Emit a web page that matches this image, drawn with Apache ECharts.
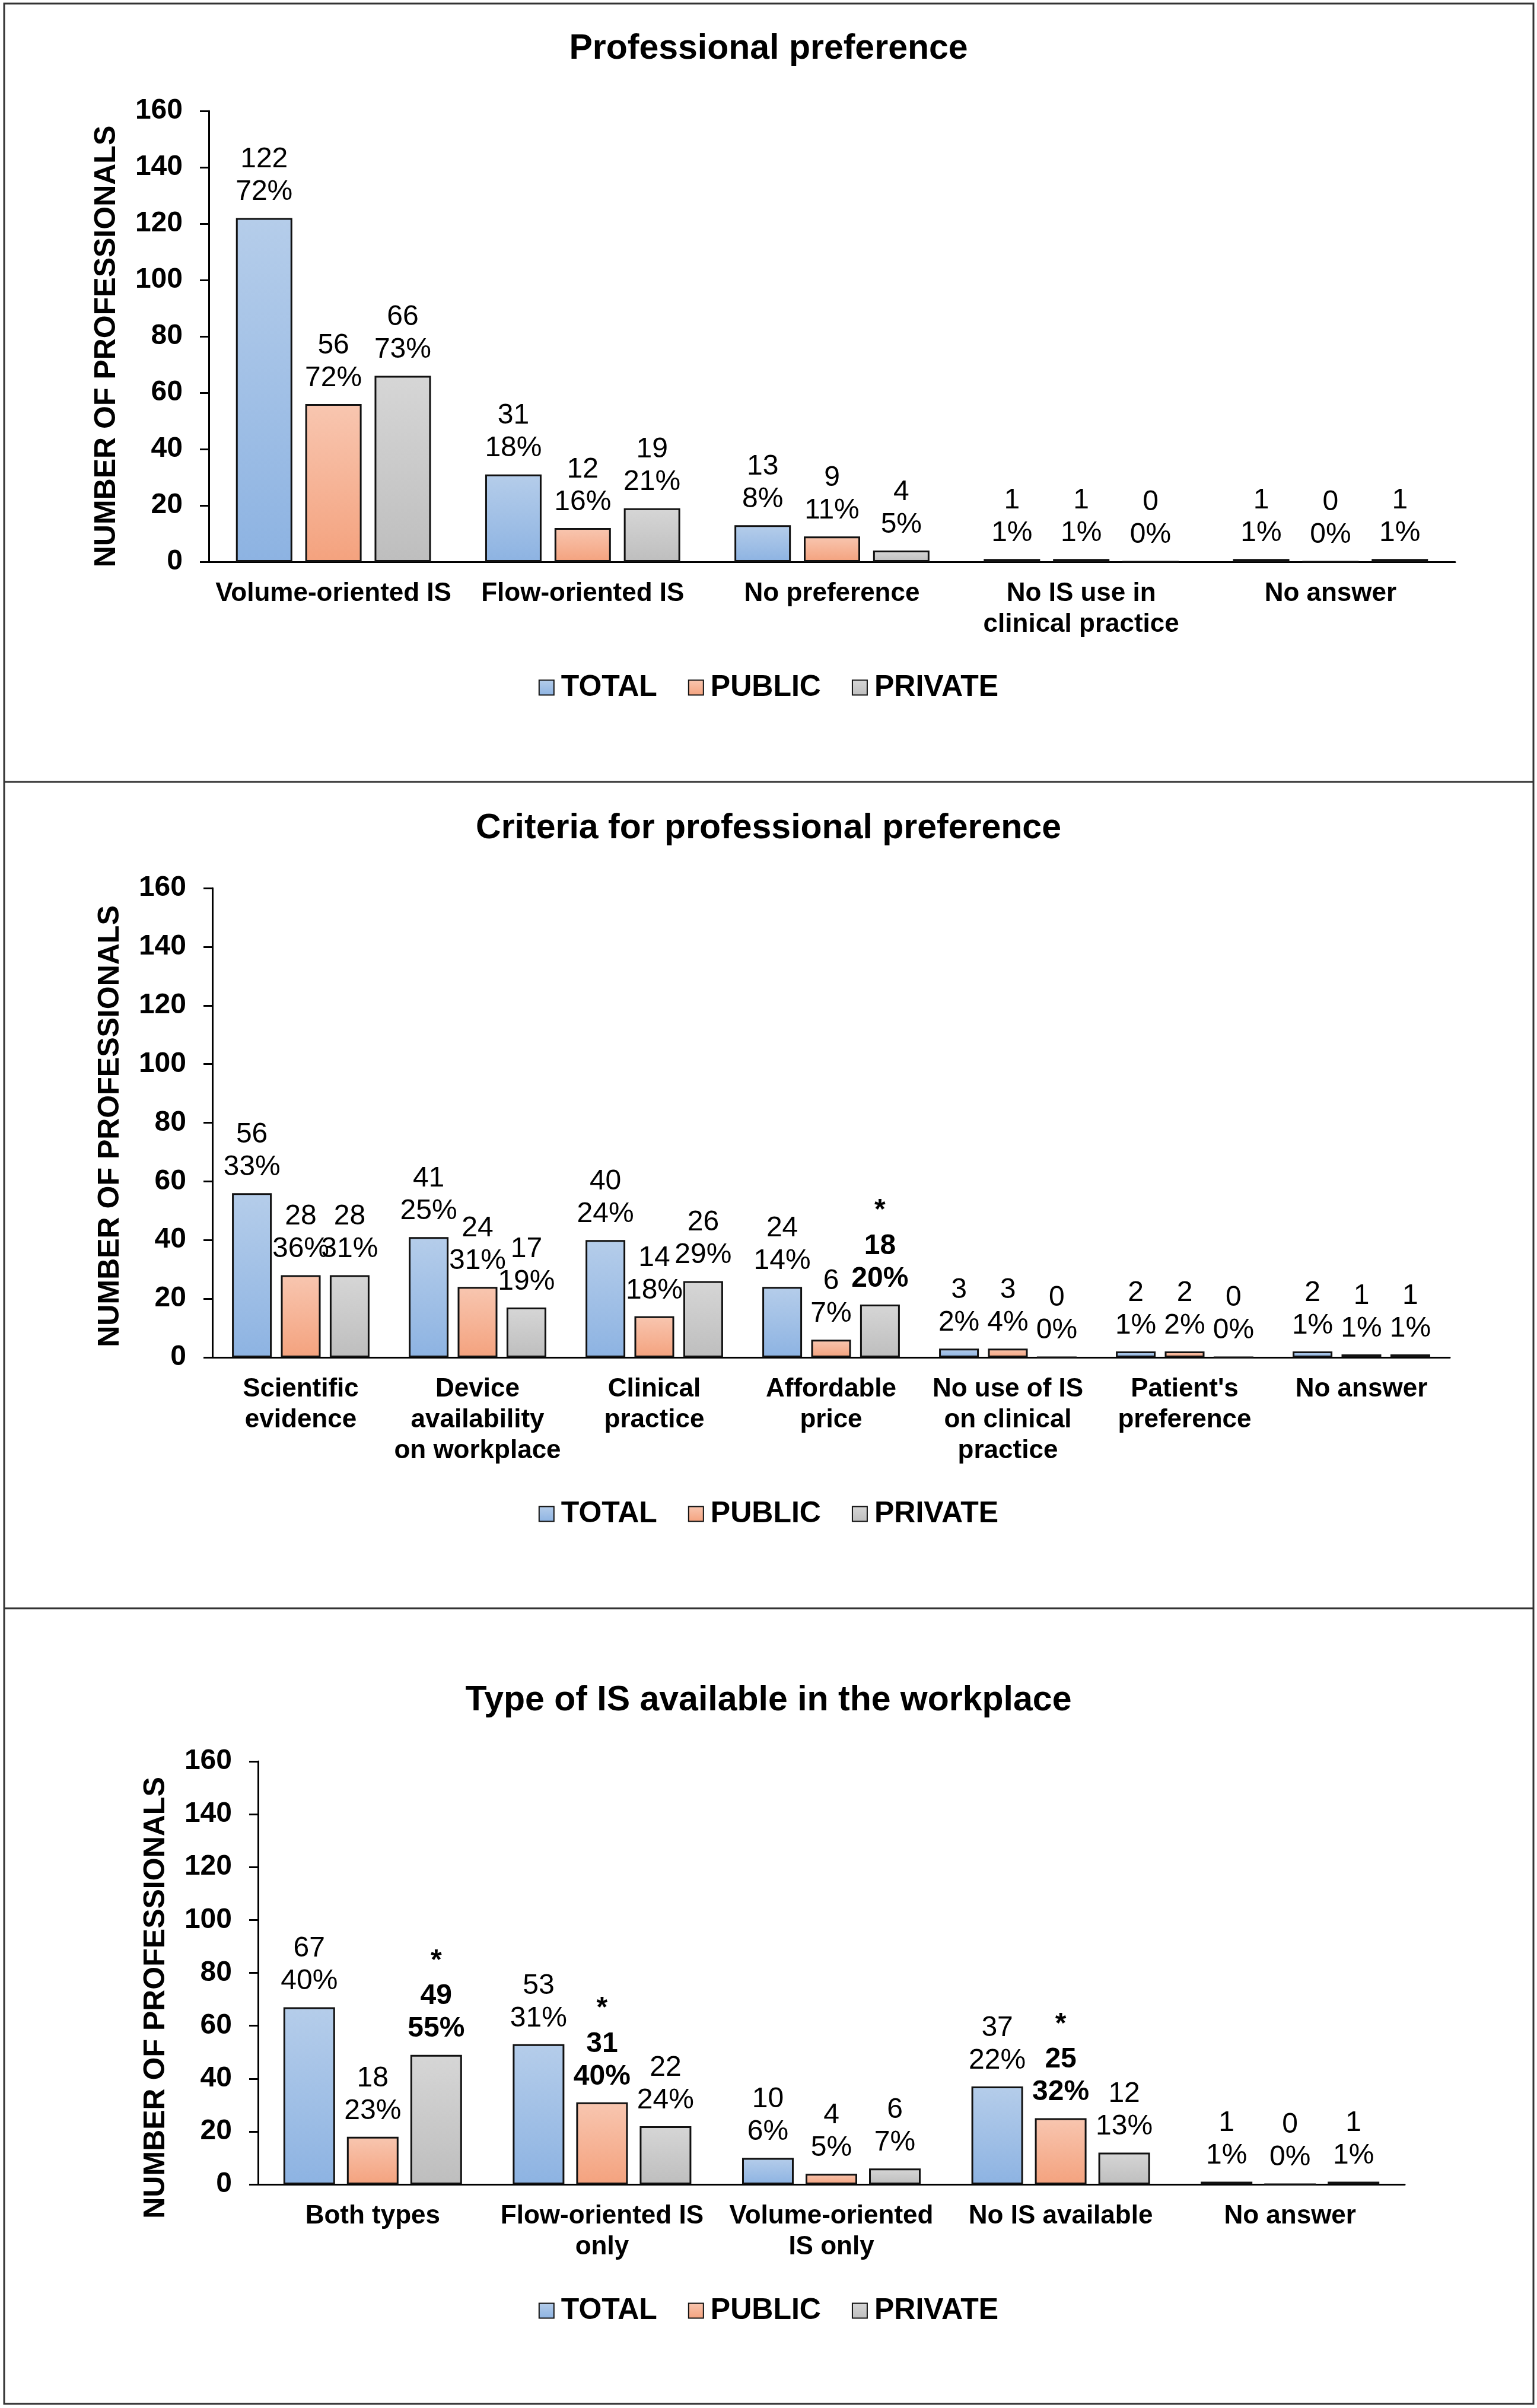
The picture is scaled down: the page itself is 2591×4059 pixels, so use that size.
<!DOCTYPE html>
<html>
<head>
<meta charset="utf-8">
<script src="https://cdn.jsdelivr.net/npm/echarts@6/dist/echarts.min.js"></script>
<style>
html,body{margin:0;padding:0;background:#fff;}
#c{width:2591px;height:4059px;}
</style>
</head>
<body>
<div id="c"></div>
<script>
// ---------- DATA ----------
const seriesNames = ['TOTAL', 'PUBLIC', 'PRIVATE'];
const yTicks = [0, 20, 40, 60, 80, 100, 120, 140, 160];

const titles = ['Professional preference', 'Criteria for professional preference', 'Type of IS available in the workplace'];
const yAxisName = 'NUMBER OF PROFESSIONALS';

// Panel 1
const cats1 = ['Volume-oriented IS', 'Flow-oriented IS', 'No preference', 'No IS use in\nclinical practice', 'No answer'];
const total1 = [122, 31, 13, 1, 1];
const public1 = [56, 12, 9, 1, 0];
const private1 = [66, 19, 4, 0, 1];
const totalPct1 = [72, 18, 8, 1, 1];
const publicPct1 = [72, 16, 11, 1, 0];
const privatePct1 = [73, 21, 5, 0, 1];
const totalSig1 = [0, 0, 0, 0, 0];
const publicSig1 = [0, 0, 0, 0, 0];
const privateSig1 = [0, 0, 0, 0, 0];

// Panel 2
const cats2 = ['Scientific\nevidence', 'Device\navailability\non workplace', 'Clinical\npractice', 'Affordable\nprice', 'No use of IS\non clinical\npractice', "Patient's\npreference", 'No answer'];
const total2 = [56, 41, 40, 24, 3, 2, 2];
const public2 = [28, 24, 14, 6, 3, 2, 1];
const private2 = [28, 17, 26, 18, 0, 0, 1];
const totalPct2 = [33, 25, 24, 14, 2, 1, 1];
const publicPct2 = [36, 31, 18, 7, 4, 2, 1];
const privatePct2 = [31, 19, 29, 20, 0, 0, 1];
const totalSig2 = [0, 0, 0, 0, 0, 0, 0];
const publicSig2 = [0, 0, 0, 0, 0, 0, 0];
const privateSig2 = [0, 0, 0, 1, 0, 0, 0];

// Panel 3
const cats3 = ['Both types', 'Flow-oriented IS\nonly', 'Volume-oriented\nIS only', 'No IS available', 'No answer'];
const total3 = [67, 53, 10, 37, 1];
const public3 = [18, 31, 4, 25, 0];
const private3 = [49, 22, 6, 12, 1];
const totalPct3 = [40, 31, 6, 22, 1];
const publicPct3 = [23, 40, 5, 32, 0];
const privatePct3 = [55, 24, 7, 13, 1];
const totalSig3 = [0, 0, 0, 0, 0];
const publicSig3 = [0, 1, 0, 1, 0];
const privateSig3 = [1, 0, 0, 0, 0];

const panels = [
  { cats: cats1, vals: [total1, public1, private1], pcts: [totalPct1, publicPct1, privatePct1], sig: [totalSig1, publicSig1, privateSig1] },
  { cats: cats2, vals: [total2, public2, private2], pcts: [totalPct2, publicPct2, privatePct2], sig: [totalSig2, publicSig2, privateSig2] },
  { cats: cats3, vals: [total3, public3, private3], pcts: [totalPct3, publicPct3, privatePct3], sig: [totalSig3, publicSig3, privateSig3] }
];

// ---------- LAYOUT / STYLE ----------
const FONT = "'Liberation Sans', Arial, Helvetica, sans-serif";
const layouts = [
  { grid: { left: 352, top: 187, width: 2101, height: 760 }, titleTop: 51, legendTop: 1134, barWidth: 95, namePad: 34 },
  { grid: { left: 358, top: 1497, width: 2086, height: 791 }, titleTop: 1365, legendTop: 2527, barWidth: 67, namePad: 12 },
  { grid: { left: 435, top: 2969, width: 1933, height: 713 }, titleTop: 2835, legendTop: 3870, barWidth: 87, namePad: 84 }
];
const grads = [
  ['#b5cdea', '#8db3e2'],
  ['#f8c6b0', '#f4a27e'],
  ['#d6d6d6', '#bebebe']
];
function grad(c) {
  return new echarts.graphic.LinearGradient(0, 0, 0, 1, [{ offset: 0, color: c[0] }, { offset: 1, color: c[1] }]);
}

const option = {
  animation: false,
  backgroundColor: '#fff',
  textStyle: { fontFamily: FONT },
  title: [], legend: [], grid: [], xAxis: [], yAxis: [], series: [],
  graphic: [
    { type: 'rect', shape: { x: 7, y: 6, width: 2578, height: 4046 }, style: { fill: 'none', stroke: '#333', lineWidth: 3 }, silent: true },
    { type: 'line', shape: { x1: 7, y1: 1318, x2: 2585, y2: 1318 }, style: { stroke: '#333', lineWidth: 3 }, silent: true },
    { type: 'line', shape: { x1: 7, y1: 2711, x2: 2585, y2: 2711 }, style: { stroke: '#333', lineWidth: 3 }, silent: true }
  ]
};

panels.forEach((p, i) => {
  const L = layouts[i];
  option.title.push({
    text: titles[i], left: 'center', top: L.titleTop, padding: 0,
    textStyle: { fontFamily: FONT, fontSize: 59, fontWeight: 'bold', color: '#000', lineHeight: 64 }
  });
  option.legend.push({
    data: seriesNames, left: 'center', top: L.legendTop, padding: 0,
    icon: 'rect', itemWidth: 25, itemHeight: 25, itemGap: 52,
    selectedMode: false,
    textStyle: { fontFamily: FONT, fontSize: 50, fontWeight: 'bold', color: '#000', padding: [0, 0, 0, 7] }
  });
  option.grid.push(Object.assign({ containLabel: false }, L.grid));
  option.xAxis.push({
    type: 'category', gridIndex: i, data: p.cats,
    axisLine: { lineStyle: { color: '#000', width: 3 } },
    axisTick: { show: false },
    axisLabel: { interval: 0, margin: 28, fontFamily: FONT, fontSize: 44, fontWeight: 'bold', color: '#000', lineHeight: 52 }
  });
  option.yAxis.push({
    type: 'value', gridIndex: i, min: yTicks[0], max: yTicks[yTicks.length - 1], interval: yTicks[1] - yTicks[0],
    name: yAxisName, nameLocation: 'middle', nameRotate: 90, nameGap: 147,
    nameTextStyle: { fontFamily: FONT, fontSize: 50, fontWeight: 'bold', color: '#000', padding: [0, L.namePad, 0, 0] },
    axisLine: { show: true, lineStyle: { color: '#000', width: 3 } },
    axisTick: { show: true, length: 15, lineStyle: { color: '#000', width: 3 } },
    splitLine: { show: false },
    axisLabel: { margin: 44, fontFamily: FONT, fontSize: 48, fontWeight: 'bold', color: '#000' }
  });
  seriesNames.forEach((name, s) => {
    const pct = p.pcts[s], sig = p.sig[s];
    option.series.push({
      type: 'bar', name: name, xAxisIndex: i, yAxisIndex: i,
      data: p.vals[s], barWidth: L.barWidth, barGap: '23%',
      itemStyle: { color: grad(grads[s]), borderColor: '#111', borderWidth: 3 },
      label: {
        show: true, position: 'top', distance: 16, color: '#000', fontFamily: FONT,
        formatter: function (prm) {
          const k = prm.dataIndex;
          if (sig[k]) return '{s|*}\n{b|' + prm.value + '}\n{b|' + pct[k] + '%}';
          return '{v|' + prm.value + '}\n{v|' + pct[k] + '%}';
        },
        rich: {
          v: { fontFamily: FONT, fontSize: 48, lineHeight: 55, color: '#000', align: 'center' },
          b: { fontFamily: FONT, fontSize: 48, fontWeight: 'bold', lineHeight: 55, color: '#000', align: 'center' },
          s: { fontFamily: FONT, fontSize: 48, fontWeight: 'bold', lineHeight: 64, color: '#000', align: 'center' }
        }
      }
    });
  });
});

const chart = echarts.init(document.getElementById('c'), null, { renderer: 'canvas' });
chart.setOption(option);
</script>
</body>
</html>
